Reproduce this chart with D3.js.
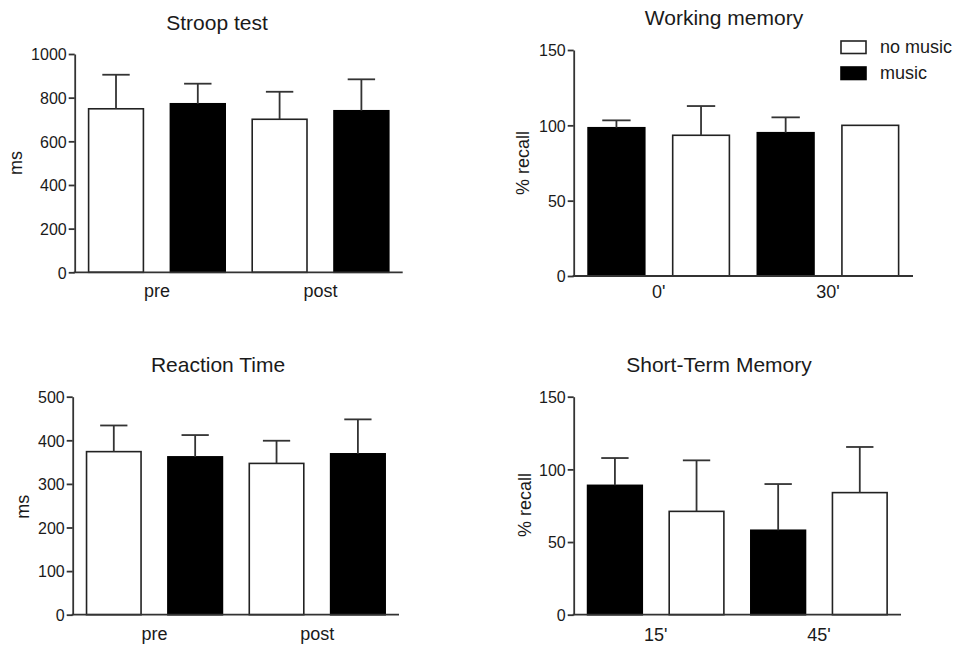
<!DOCTYPE html>
<html>
<head>
<meta charset="utf-8">
<script src="https://cdn.jsdelivr.net/npm/d3@7"></script>
<style>
  body { margin: 0; background: #fff; }
  svg { display: block; }
  text { font-family: "Liberation Sans", Arial, Helvetica, sans-serif; fill: #1a1a1a; }
</style>
</head>
<body>
<svg id="chart" width="954" height="645"></svg>
<script>
// ---------- Data ----------
const stroopGroups = ["pre", "post"];
const stroopSeries = ["no music", "music", "no music", "music"];
const stroopMeans = [749, 772, 701, 740];
const stroopErrTop = [905, 864, 827, 884];
const stroopTicks = [0, 200, 400, 600, 800, 1000];

const wmGroups = ["0'", "30'"];
const wmSeries = ["music", "no music", "music", "no music"];
const wmMeans = [98.4, 93.4, 95.1, 100];
const wmErrTop = [103.3, 112.8, 105.3, 100];
const wmTicks = [0, 50, 100, 150];

const rtGroups = ["pre", "post"];
const rtSeries = ["no music", "music", "no music", "music"];
const rtMeans = [374, 362, 347, 369];
const rtErrTop = [434, 412, 399, 448];
const rtTicks = [0, 100, 200, 300, 400, 500];

const stmGroups = ["15'", "45'"];
const stmSeries = ["music", "no music", "music", "no music"];
const stmMeans = [89, 71.1, 58.1, 84];
const stmErrTop = [107.8, 106.2, 89.9, 115.4];
const stmTicks = [0, 50, 100, 150];

const legendLabels = ["no music", "music"];

// ---------- Layout ----------
const svg = d3.select("#chart");
const lineColor = "#333";

function panel(cfg) {
  const g = svg.append("g");
  const x = d3.scaleBand().domain(d3.range(cfg.means.length))
    .range([cfg.x0, cfg.x1]).paddingInner(0.33).paddingOuter(0.17);
  const y = d3.scaleLinear().domain([0, d3.max(cfg.ticks)]).range([cfg.y0, cfg.y1]);

  // bars
  const data = cfg.means.map((m, i) => ({ m, e: cfg.err[i], s: cfg.series[i], i }));
  g.selectAll("rect.bar").data(data).enter().append("rect")
    .attr("class", "bar")
    .attr("x", d => x(d.i))
    .attr("y", d => y(d.m))
    .attr("width", x.bandwidth())
    .attr("height", d => y(0) - y(d.m))
    .attr("fill", d => d.s === "music" ? "#000" : "#fff")
    .attr("stroke", d => d.s === "music" ? "#000" : "#222")
    .attr("stroke-width", 1.6);

  // error bars
  const eb = g.selectAll("g.err").data(data.filter(d => d.e > d.m)).enter().append("g");
  eb.append("line")
    .attr("x1", d => x(d.i) + x.bandwidth() / 2)
    .attr("x2", d => x(d.i) + x.bandwidth() / 2)
    .attr("y1", d => y(d.m))
    .attr("y2", d => y(d.e))
    .attr("stroke", lineColor).attr("stroke-width", 1.8);
  eb.append("line")
    .attr("x1", d => x(d.i) + x.bandwidth() / 4)
    .attr("x2", d => x(d.i) + x.bandwidth() * 3 / 4)
    .attr("y1", d => y(d.e))
    .attr("y2", d => y(d.e))
    .attr("stroke", lineColor).attr("stroke-width", 1.8);

  // y axis
  const ya = g.append("g").attr("transform", `translate(${cfg.x0},0)`)
    .call(d3.axisLeft(y).tickValues(cfg.ticks).tickFormat(d3.format("d"))
      .tickSize(6).tickPadding(2).tickSizeOuter(0));
  ya.attr("font-size", null).attr("font-family", null);
  ya.select(".domain").attr("stroke", lineColor).attr("stroke-width", 1.8);
  ya.selectAll(".tick line").attr("stroke", lineColor).attr("stroke-width", 1.8);
  ya.selectAll(".tick text").style("font-size", "16px").style("fill", "#1a1a1a")
    .attr("dy", "0.36em");

  // x axis baseline
  g.append("line").attr("x1", cfg.x0 - 1).attr("x2", cfg.x1)
    .attr("y1", y(0)).attr("y2", y(0))
    .attr("stroke", lineColor).attr("stroke-width", 1.8);

  // group labels
  cfg.groups.forEach((lab, k) => {
    const cx = (x(2 * k) + x(2 * k + 1) + x.bandwidth()) / 2;
    g.append("text").attr("x", cx).attr("y", cfg.xlabY)
      .attr("text-anchor", "middle").style("font-size", "18px").text(lab);
  });

  // title
  g.append("text").attr("x", cfg.titleX).attr("y", cfg.titleY)
    .attr("text-anchor", "middle").style("font-size", "21px").text(cfg.title);

  // y label
  g.append("text").attr("transform", `translate(${cfg.ylabX},${cfg.ylabY}) rotate(-90)`)
    .attr("text-anchor", "middle").style("font-size", "18px").text(cfg.ylab);
}

panel({ means: stroopMeans, err: stroopErrTop, series: stroopSeries, ticks: stroopTicks,
  groups: stroopGroups, title: "Stroop test", ylab: "ms",
  x0: 74.7, x1: 402.7, y0: 272.3, y1: 54, xlabY: 297, titleX: 217, titleY: 30,
  ylabX: 22, ylabY: 163 });

panel({ means: wmMeans, err: wmErrTop, series: wmSeries, ticks: wmTicks,
  groups: wmGroups, title: "Working memory", ylab: "% recall",
  x0: 573.7, x1: 913, y0: 276, y1: 50, xlabY: 298, titleX: 724, titleY: 25,
  ylabX: 529, ylabY: 163 });

panel({ means: rtMeans, err: rtErrTop, series: rtSeries, ticks: rtTicks,
  groups: rtGroups, title: "Reaction Time", ylab: "ms",
  x0: 72.7, x1: 399, y0: 614.7, y1: 396.7, xlabY: 639.5, titleX: 218, titleY: 372,
  ylabX: 28.5, ylabY: 506.7 });

panel({ means: stmMeans, err: stmErrTop, series: stmSeries, ticks: stmTicks,
  groups: stmGroups, title: "Short-Term Memory", ylab: "% recall",
  x0: 573.7, x1: 901, y0: 614.7, y1: 396.7, xlabY: 641, titleX: 719, titleY: 372,
  ylabX: 530.5, ylabY: 505 });

// legend
const leg = svg.append("g");
legendLabels.forEach((lab, i) => {
  leg.append("rect").attr("x", 841).attr("y", 41 + i * 26).attr("width", 25).attr("height", 12.5)
    .attr("fill", lab === "music" ? "#000" : "#fff")
    .attr("stroke", lab === "music" ? "#000" : "#222").attr("stroke-width", 1.6);
  leg.append("text").attr("x", 880).attr("y", 53 + i * 26).style("font-size", "18px").text(lab);
});
</script>
</body>
</html>
